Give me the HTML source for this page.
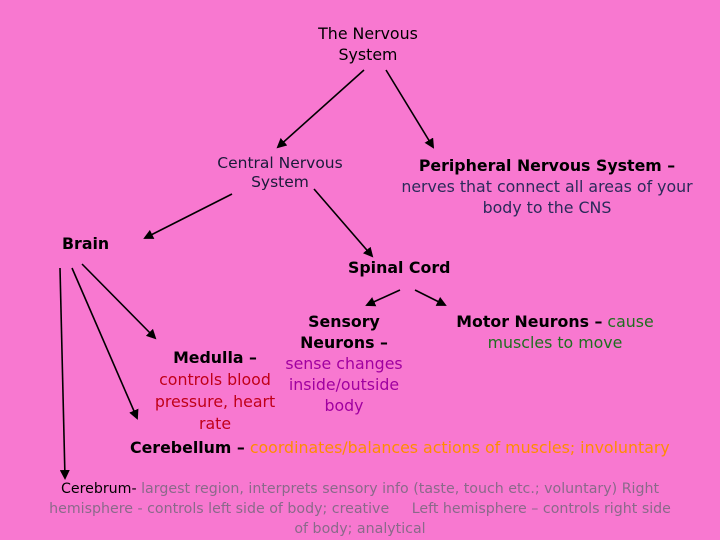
<!DOCTYPE html>
<html><head><style>
body{margin:0;width:720px;height:540px;background:#f878d0;position:relative;overflow:hidden;font-family:"DejaVu Sans","Liberation Sans",sans-serif;}
.t{position:absolute;text-align:center;font-size:15.8px;line-height:21px;white-space:nowrap;}
b{font-weight:bold;color:#000}
.g{color:#1f6f1f}.r{color:#c00018}.p{color:#a000a0}.o{color:#ff8c00}.gr{color:#8a6a8a}.bl{color:#2a2a5a}
svg{position:absolute;left:0;top:0}
</style></head><body>
<svg width="720" height="540">
<defs><marker id="a" markerWidth="10" markerHeight="10" refX="8" refY="5" orient="auto" markerUnits="userSpaceOnUse"><path d="M0,0 L10,5 L0,10 z" fill="#000"/></marker></defs>
<g stroke="#000" stroke-width="1.6" fill="none" marker-end="url(#a)">
<line x1="364" y1="70" x2="278" y2="147"/>
<line x1="386" y1="70" x2="433" y2="147"/>
<line x1="232" y1="194" x2="145" y2="238"/>
<line x1="314" y1="189" x2="372" y2="256"/>
<line x1="60" y1="268" x2="65" y2="478"/>
<line x1="72" y1="268" x2="137" y2="418"/>
<line x1="82" y1="264" x2="155" y2="338"/>
<line x1="400" y1="290" x2="367" y2="305"/>
<line x1="415" y1="290" x2="445" y2="305"/>
</g></svg>
<div class="t" style="left:298px;top:23px;width:140px;color:#000">The Nervous<br>System</div>
<div class="t" style="left:180px;top:154px;width:200px;color:#1a1a3a;line-height:19px;font-size:15.5px">Central Nervous<br>System</div>
<div class="t" style="left:382px;top:155px;width:330px;line-height:21px"><b>Peripheral Nervous System –</b><br><span class="bl">nerves that connect all areas of your<br>body to the CNS</span></div>
<div class="t" style="left:62px;top:233px"><b>Brain</b></div>
<div class="t" style="left:348px;top:257px"><b>Spinal Cord</b></div>
<div class="t" style="left:269px;top:311px;width:150px;line-height:21px"><b>Sensory<br>Neurons –</b><br><span class="p">sense changes<br>inside/outside<br>body</span></div>
<div class="t" style="left:425px;top:311px;width:260px;line-height:21px"><b>Motor Neurons –</b> <span class="g">cause<br>muscles to move</span></div>
<div class="t" style="left:135px;top:347px;width:160px;line-height:22px"><b>Medulla –</b><br><span class="r">controls blood<br>pressure, heart<br>rate</span></div>
<div class="t" style="left:130px;top:437px"><b>Cerebellum –</b> <span class="o">coordinates/balances actions of muscles; involuntary</span></div>
<div class="t" style="left:20px;top:479px;width:680px;line-height:20px;font-size:14.2px"><span style="color:#000">Cerebrum-</span> <span class="gr">largest region, interprets sensory info (taste, touch etc.; voluntary) Right<br>hemisphere - controls left side of body; creative &nbsp;&nbsp;&nbsp; Left hemisphere – controls right side<br>of body; analytical</span></div>
</body></html>
